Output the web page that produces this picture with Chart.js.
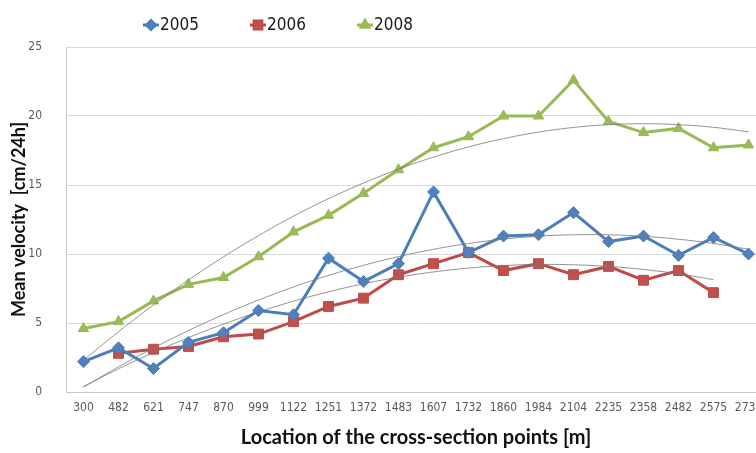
<!DOCTYPE html>
<html lang="en">
<head>
    <meta charset="UTF-8">
    <title>Mean velocity by cross-section point</title>
    <script src="https://cdn.jsdelivr.net/npm/chart.js"></script>
    <style>
        html, body { margin: 0; padding: 0; background: #fff; }
        #wrap { width: 756px; height: 453px; overflow: hidden; position: relative; }
        canvas { display: block; }
    </style>
</head>
<body>
    <div id="wrap"><canvas id="chart" width="790" height="453"></canvas></div>

    <script>
        // cross-section locations [m]
        const locations = ["300", "482", "621", "747", "870", "999", "1122", "1251", "1372", "1483",
                           "1607", "1732", "1860", "1984", "2104", "2235", "2358", "2482", "2575", "2734"];

        // mean velocity [cm/24h]
        const v2005 = [2.2, 3.2, 1.7, 3.6, 4.3, 5.9, 5.6, 9.7, 8.0, 9.3,
                       14.5, 10.1, 11.3, 11.4, 13.0, 10.9, 11.3, 9.9, 11.2, 10.0];
        const v2006 = [null, 2.8, 3.1, 3.3, 4.0, 4.2, 5.1, 6.2, 6.8, 8.5,
                       9.3, 10.1, 8.8, 9.3, 8.5, 9.1, 8.1, 8.8, 7.2, null];
        const v2008 = [4.6, 5.1, 6.6, 7.8, 8.3, 9.8, 11.6, 12.8, 14.4, 16.1,
                       17.7, 18.5, 20.0, 20.0, 22.6, 19.6, 18.8, 19.1, 17.7, 17.9];

        // thin polynomial trend lines
        const trend2005 = [0.35, 1.82, 3.19, 4.45, 5.61, 6.66, 7.61, 8.45, 9.18, 9.81,
                           10.34, 10.76, 11.08, 11.29, 11.39, 11.39, 11.28, 11.07, 10.76, 10.34];
        const trend2006 = [0.4, 1.68, 2.86, 3.94, 4.92, 5.80, 6.58, 7.26, 7.84, 8.32,
                           8.70, 8.98, 9.16, 9.24, 9.22, 9.10, 8.88, 8.56, 8.14, null];
        const trend2008 = [2.3, 4.37, 6.31, 8.12, 9.79, 11.33, 12.74, 14.01, 15.14, 16.15,
                           17.02, 17.76, 18.36, 18.83, 19.17, 19.37, 19.44, 19.37, 19.18, 18.85];

        const yTicks = [0, 5, 10, 15, 20, 25];

        const narrow = '"Liberation Sans Narrow", "DejaVu Sans Condensed", "Roboto", sans-serif';
        const bold = 'Lato, "Open Sans", sans-serif';

        function series(label, data, line, fill, style, radius) {
            return {
                label, data,
                borderColor: line, backgroundColor: fill,
                borderWidth: 3,
                pointStyle: style, pointRadius: radius,
                pointBackgroundColor: fill, pointBorderColor: line, pointBorderWidth: 1,
                tension: 0, order: 2
            };
        }

        function trend(data) {
            return {
                label: "", data,
                borderColor: "rgba(120,120,120,0.8)", borderWidth: 1,
                pointRadius: 0, tension: 0.4, fill: false, order: 1
            };
        }

        // legend drawn like the spreadsheet one: short line + marker + year
        const sheetLegend = {
            id: "sheetLegend",
            afterDraw(chart) {
                const ctx = chart.ctx;
                const keys = chart.data.datasets.filter(d => d.label);
                let x = 143;
                const y = 25;
                ctx.save();
                keys.forEach(ds => {
                    ctx.strokeStyle = ds.borderColor;
                    ctx.lineWidth = 3;
                    ctx.beginPath();
                    ctx.moveTo(x, y);
                    ctx.lineTo(x + 16, y);
                    ctx.stroke();
                    Chart.helpers.drawPoint(ctx, {
                        pointStyle: ds.pointStyle, radius: ds.pointRadius - 1.5,
                        rotation: 0, borderWidth: 1
                    }, x + 8, y);
                    ctx.fillStyle = ds.backgroundColor;
                    ctx.fill();
                    ctx.fillStyle = "#1a1a1a";
                    ctx.font = "17px " + narrow;
                    ctx.textBaseline = "middle";
                    ctx.fillText(ds.label, x + 17, y + 1);
                    x += 107;
                });
                ctx.restore();
            }
        };

        new Chart(document.getElementById("chart"), {
            type: "line",
            data: {
                labels: locations,
                datasets: [
                    series("2005", v2005, "#4a7ebb", "#4f81bd", "rectRot", 6),
                    series("2006", v2006, "#be4b48", "#c0504d", "rect", 7),
                    series("2008", v2008, "#98b954", "#9bbb59", "triangle", 6),
                    trend(trend2005),
                    trend(trend2006),
                    trend(trend2008)
                ]
            },
            options: {
                responsive: false,
                animation: false,
                layout: { padding: { top: 47, right: 24, left: 0, bottom: 0 } },
                plugins: {
                    legend: { display: false },
                    tooltip: { enabled: false }
                },
                scales: {
                    x: {
                        offset: true,
                        grid: { display: false, drawTicks: false },
                        border: { color: "#c8c8c8", width: 1 },
                        ticks: {
                            autoSkip: false, maxRotation: 0, padding: 9,
                            color: "#595959", font: { family: narrow, size: 12 }
                        },
                        title: {
                            display: true, text: "Location of the cross-section points [m]",
                            color: "#111", font: { family: bold, size: 20, weight: "bold" },
                            padding: { top: 8, bottom: 3 }
                        },
                        afterFit: s => { s.height = 61; }
                    },
                    y: {
                        min: 0, max: 25,
                        afterBuildTicks: s => { s.ticks = yTicks.map(v => ({ value: v })); },
                        grid: { color: "#d9d9d9", drawTicks: false },
                        border: { color: "#c8c8c8", width: 1 },
                        ticks: {
                            padding: 24, color: "#595959",
                            font: { family: narrow, size: 12 }
                        },
                        title: {
                            display: true, text: "Mean velocity  [cm/24h]",
                            color: "#111", font: { family: bold, size: 18, weight: "bold" },
                            padding: { top: 8, bottom: 0 }
                        },
                        afterFit: s => { s.width = 66; }
                    }
                }
            },
            plugins: [sheetLegend]
        });
    </script>
</body>
</html>
